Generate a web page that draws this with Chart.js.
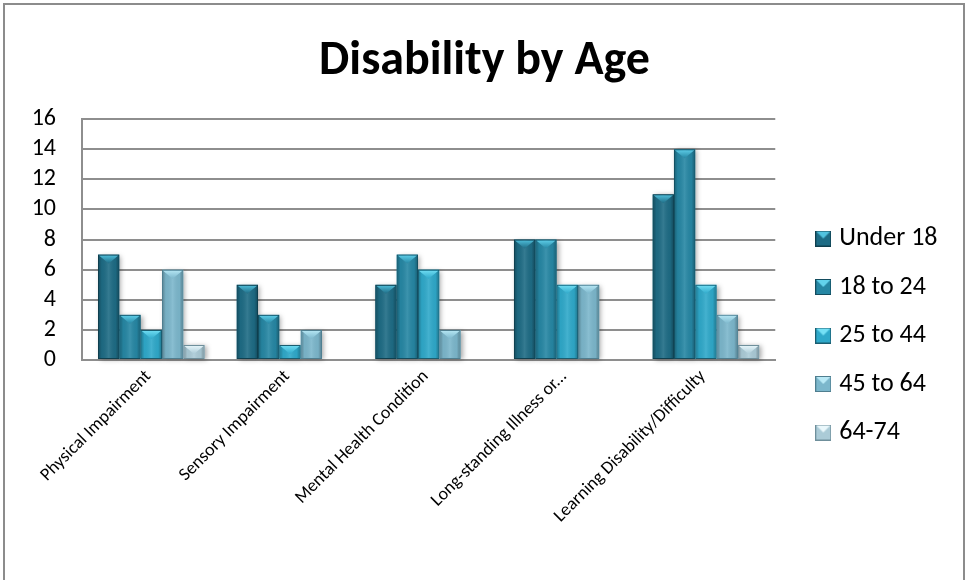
<!DOCTYPE html>
<html>
<head>
<meta charset="utf-8">
<title>Disability by Age</title>
<script src="https://cdn.jsdelivr.net/npm/chart.js@4.4.0/dist/chart.umd.min.js"></script>
<style>
  html, body { margin: 0; padding: 0; background: #fff; }
  #wrap { width: 965px; height: 580px; position: relative; }
</style>
</head>
<body>
<div id="wrap"><canvas id="myChart"></canvas></div>
<script>
// categories and age bands
const categories = ['Physical Impairment', 'Sensory Impairment', 'Mental Health Condition', 'Long-standing Illness or...', 'Learning Disability/Difficulty'];
const seriesNames = ['Under 18', '18 to 24', '25 to 44', '45 to 64', '64-74'];

// counts per age band
const under18 = [7, 5, 5, 8, 11];
const age18to24 = [3, 3, 7, 8, 14];
const age25to44 = [2, 1, 6, 5, 5];
const age45to64 = [6, 2, 2, 5, 3];
const age64to74 = [1, 0, 0, 0, 1];

const yTicks = [0, 2, 4, 6, 8, 10, 12, 14, 16];

// body colour, top facet colour, outline
const barColors = ['#1e6c85', '#2687a4', '#2fa9ca', '#7cb7cc', '#abcbd7'];
const topColors = ['#52c3df', '#62d2ec', '#74e0f5', '#b9e9f6', '#eaf8fc'];
const edgeColors = ['#0f3f4e', '#134c5e', '#1a5d70', '#4f7e8f', '#6f8f9b'];

const FONT = 'Carlito, Lato, "Open Sans", sans-serif';

// little bevelled square for the legend
function legendSwatch(i) {
  const c = document.createElement('canvas');
  c.width = 16; c.height = 16;
  const g = c.getContext('2d');
  g.fillStyle = barColors[i];
  g.fillRect(0, 0, 16, 16);
  g.fillStyle = topColors[i];
  g.beginPath();
  g.moveTo(1, 1); g.lineTo(15, 1); g.lineTo(8, 8); g.closePath();
  g.fill();
  g.strokeStyle = edgeColors[i];
  g.lineWidth = 1;
  g.strokeRect(0.5, 0.5, 15, 15);
  return c;
}

const allSeries = [under18, age18to24, age25to44, age45to64, age64to74];

const datasets = allSeries.map((values, i) => ({
  label: seriesNames[i],
  data: values,
  backgroundColor: barColors[i],
  borderColor: edgeColors[i],
  borderWidth: 1,
  borderSkipped: false,
  pointStyle: legendSwatch(i),
  categoryPercentage: 1 / 1.3,
  barPercentage: 1.0
}));

// frame round the whole chart
const framePlugin = {
  id: 'frame',
  beforeDraw(chart) {
    const ctx = chart.ctx;
    ctx.save();
    ctx.fillStyle = '#fff';
    ctx.fillRect(0, 0, chart.width, chart.height);
    ctx.strokeStyle = '#8c8c8c';
    ctx.lineWidth = 2;
    ctx.strokeRect(4, 4, chart.width - 5, chart.height + 10);
    ctx.restore();
  }
};

function barRect(el) {
  const p = el.getProps(['x', 'y', 'base', 'width'], true);
  const left = p.x - p.width / 2;
  const top = Math.min(p.y, p.base);
  const h = Math.abs(p.base - p.y);
  return { left, top, w: p.width, h, cx: p.x };
}

// soft shadow under the bars and bevel on top of them
const bevelPlugin = {
  id: 'bevel',
  beforeDatasetsDraw(chart) {
    const ctx = chart.ctx;
    chart.data.datasets.forEach((ds, di) => {
      chart.getDatasetMeta(di).data.forEach((el, i) => {
        if (!ds.data[i]) return;
        const r = barRect(el);
        ctx.save();
        ctx.shadowColor = 'rgba(0,0,0,0.35)';
        ctx.shadowBlur = 5;
        ctx.shadowOffsetX = 2;
        ctx.shadowOffsetY = 1;
        ctx.fillStyle = barColors[di];
        ctx.fillRect(r.left, r.top, r.w, r.h);
        ctx.restore();
      });
    });
  },
  afterDatasetsDraw(chart) {
    const ctx = chart.ctx;
    chart.data.datasets.forEach((ds, di) => {
      chart.getDatasetMeta(di).data.forEach((el, i) => {
        if (!ds.data[i]) return;
        const r = barRect(el);
        ctx.save();
        ctx.beginPath();
        ctx.rect(r.left + 1, r.top + 1, r.w - 2, r.h - 2);
        ctx.clip();
        // rounded look across the bar
        const hg = ctx.createLinearGradient(r.left, 0, r.left + r.w, 0);
        hg.addColorStop(0, 'rgba(0,0,0,0.30)');
        hg.addColorStop(0.18, 'rgba(0,0,0,0.04)');
        hg.addColorStop(0.5, 'rgba(255,255,255,0.10)');
        hg.addColorStop(0.82, 'rgba(0,0,0,0.04)');
        hg.addColorStop(1, 'rgba(0,0,0,0.32)');
        ctx.fillStyle = hg;
        ctx.fillRect(r.left, r.top, r.w, r.h);
        // top facet
        const b = Math.min(9, r.h);
        const vg = ctx.createLinearGradient(0, r.top, 0, r.top + b);
        vg.addColorStop(0, topColors[di]);
        vg.addColorStop(1, barColors[di]);
        ctx.fillStyle = vg;
        ctx.beginPath();
        ctx.moveTo(r.left + 1, r.top + 1);
        ctx.lineTo(r.left + r.w - 1, r.top + 1);
        ctx.lineTo(r.cx, r.top + b);
        ctx.closePath();
        ctx.fill();
        ctx.restore();
      });
    });
  },
  afterLayout(chart) {
    // title centred on the whole frame
    const tb = chart.titleBlock;
    if (tb) {
      const tdx = chart.width / 2 + 2 - (tb.left + tb.right) / 2;
      tb.left += tdx; tb.right += tdx;
    }
    // legend beside the plot, a bit lower than centre
    const lg = chart.legend;
    if (!lg) return;
    const pad = lg.options.labels.padding;
    const dx = (chart.chartArea.right + 45) - (lg.left + pad);
    lg.left += dx; lg.right += dx;
    const h = lg.bottom - lg.top;
    lg.top = chart.chartArea.top + 84;
    lg.bottom = lg.top + h;
  }
};

const ctx = document.getElementById('myChart').getContext('2d');

const myChart = new Chart(ctx, {
  type: 'bar',
  data: {
    labels: categories,
    datasets: datasets
  },
  options: {
    responsive: true,
    maintainAspectRatio: false,
    animation: false,
    layout: { padding: { left: 0, right: 40, top: 0, bottom: 0 } },
    scales: {
      x: {
        grid: { display: false },
        border: { display: true, color: '#8e8e8e', width: 2 },
        ticks: {
          color: '#000',
          font: { family: FONT, size: 18 },
          minRotation: 45,
          maxRotation: 45,
          autoSkip: false,
          labelOffset: -3,
          padding: -2
        },
        afterFit(scale) { scale.height = 220; }
      },
      y: {
        min: 0,
        max: 16,
        grid: { color: '#8e8e8e', lineWidth: 2, drawTicks: false },
        border: { display: true, color: '#8e8e8e', width: 2 },
        afterBuildTicks(scale) { scale.ticks = yTicks.map(v => ({ value: v })); },
        ticks: {
          color: '#000',
          font: { family: FONT, size: 24 },
          autoSkip: false,
          padding: 26
        },
        afterFit(scale) { scale.width = 82; }
      }
    },
    plugins: {
      title: {
        display: true,
        text: 'Disability by Age',
        color: '#000',
        font: { family: FONT, size: 48, weight: 'bold' },
        padding: { top: 33, bottom: 28.4 }
      },
      legend: {
        display: true,
        position: 'right',
        align: 'start',
        labels: {
          usePointStyle: true,
          boxWidth: 6,
          boxHeight: 16,
          padding: 22.5,
          color: '#000',
          font: { family: FONT, size: 26 }
        }
      },
      tooltip: { enabled: false }
    }
  },
  plugins: [framePlugin, bevelPlugin]
});
</script>
</body>
</html>
